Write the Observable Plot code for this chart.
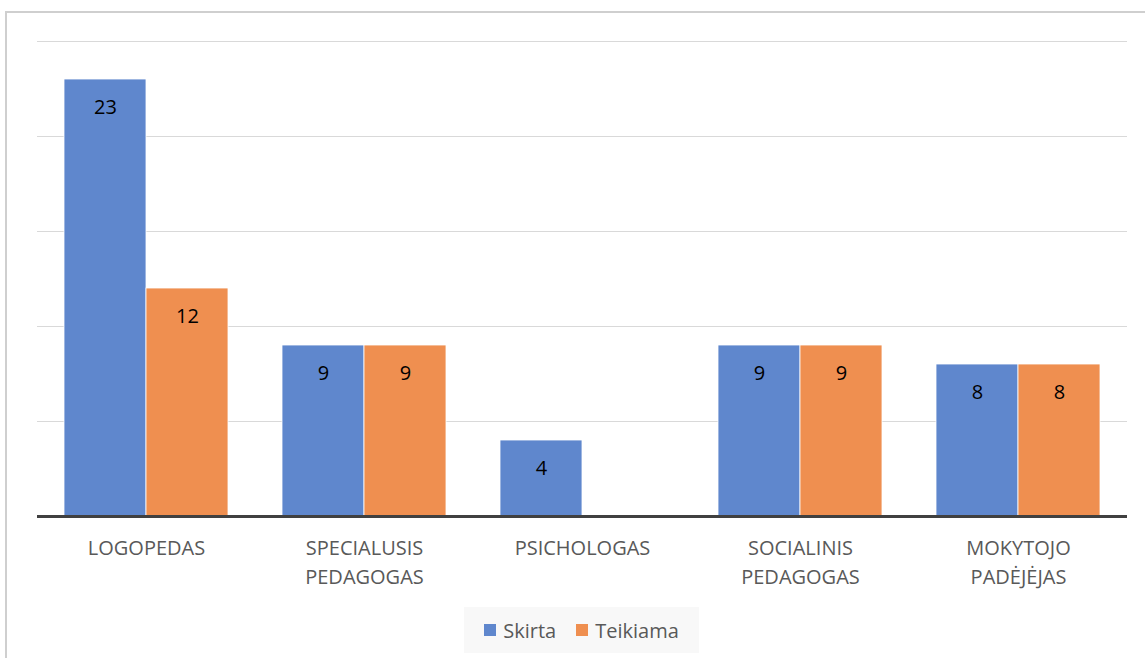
<!DOCTYPE html>
<html>
<head>
<meta charset="utf-8">
<script src="https://cdn.jsdelivr.net/npm/d3@7"></script>
<script src="https://cdn.jsdelivr.net/npm/@observablehq/plot@0.6"></script>
<style>
  body { margin: 0; background: #fff; font-family: "Open Sans", sans-serif; }
  #frame { position: absolute; left: 5px; top: 11px; width: 1160px; height: 700px; border: 2px solid #cfcfcf; box-sizing: border-box; }
  #chart { position: absolute; left: 0; top: 0; }
  #legend { position: absolute; left: 464px; top: 607px; width: 235px; height: 46px; background: #f8f8f8;
            display: flex; align-items: center; justify-content: center; font-size: 20px; color: #595959; }
  .item { display: flex; align-items: center; }
  .sw { width: 12px; height: 12px; margin-right: 7px; }
  .item + .item { margin-left: 20px; }
</style>
</head>
<body>
<div id="frame"></div>
<div id="chart"></div>
<div id="legend"></div>
<script>
const categories = ["LOGOPEDAS", "SPECIALUSIS\nPEDAGOGAS", "PSICHOLOGAS", "SOCIALINIS\nPEDAGOGAS", "MOKYTOJO\nPADĖJĖJAS"];
const series = ["Skirta", "Teikiama"];
const skirta = [23, 9, 4, 9, 8];
const teikiama = [12, 9, null, 9, 8];
const yTicks = [0, 5, 10, 15, 20, 25];
const colors = ["#5f87cd", "#ef8f50"];

const data = categories.flatMap((c, i) => [
  {cat: c, series: "Skirta", value: skirta[i]},
  {cat: c, series: "Teikiama", value: teikiama[i]}
]).filter(d => d.value != null);

const chart = Plot.plot({
  width: 1145,
  height: 600,
  marginLeft: 35,
  marginRight: 16,
  marginTop: 41,
  marginBottom: 84,
  style: {fontFamily: "Open Sans", fontSize: "20px", background: "transparent", overflow: "visible"},
  fx: {domain: categories, padding: 0, label: null},
  x: {domain: series, axis: null, paddingInner: 0, paddingOuter: 0.32},
  y: {domain: [0, 25], axis: null},
  color: {domain: series, range: colors},
  marks: [
    Plot.ruleY(yTicks.filter(t => t > 0), {stroke: "#d9d9d9", strokeWidth: 1.2}),
    Plot.barY(data, {fx: "cat", x: "series", y: "value", fill: "series", stroke: "white", strokeWidth: 0.8}),
    Plot.text(data, {fx: "cat", x: "series", y: "value", text: "value", dy: 28, fill: "black", fontSize: 20}),
    Plot.ruleY([0], {stroke: "#404040", strokeWidth: 3}),
    Plot.axisFx({anchor: "bottom", tickSize: 0, tickPadding: 18, lineHeight: 1.45, fontSize: 20, fill: "#595959", label: null})
  ]
});
document.getElementById("chart").append(chart);

const legend = document.getElementById("legend");
series.forEach((s, i) => {
  const item = document.createElement("div");
  item.className = "item";
  const sw = document.createElement("span");
  sw.className = "sw";
  sw.style.background = colors[i];
  const t = document.createElement("span");
  t.textContent = s;
  item.append(sw, t);
  legend.append(item);
});
</script>
</body>
</html>
